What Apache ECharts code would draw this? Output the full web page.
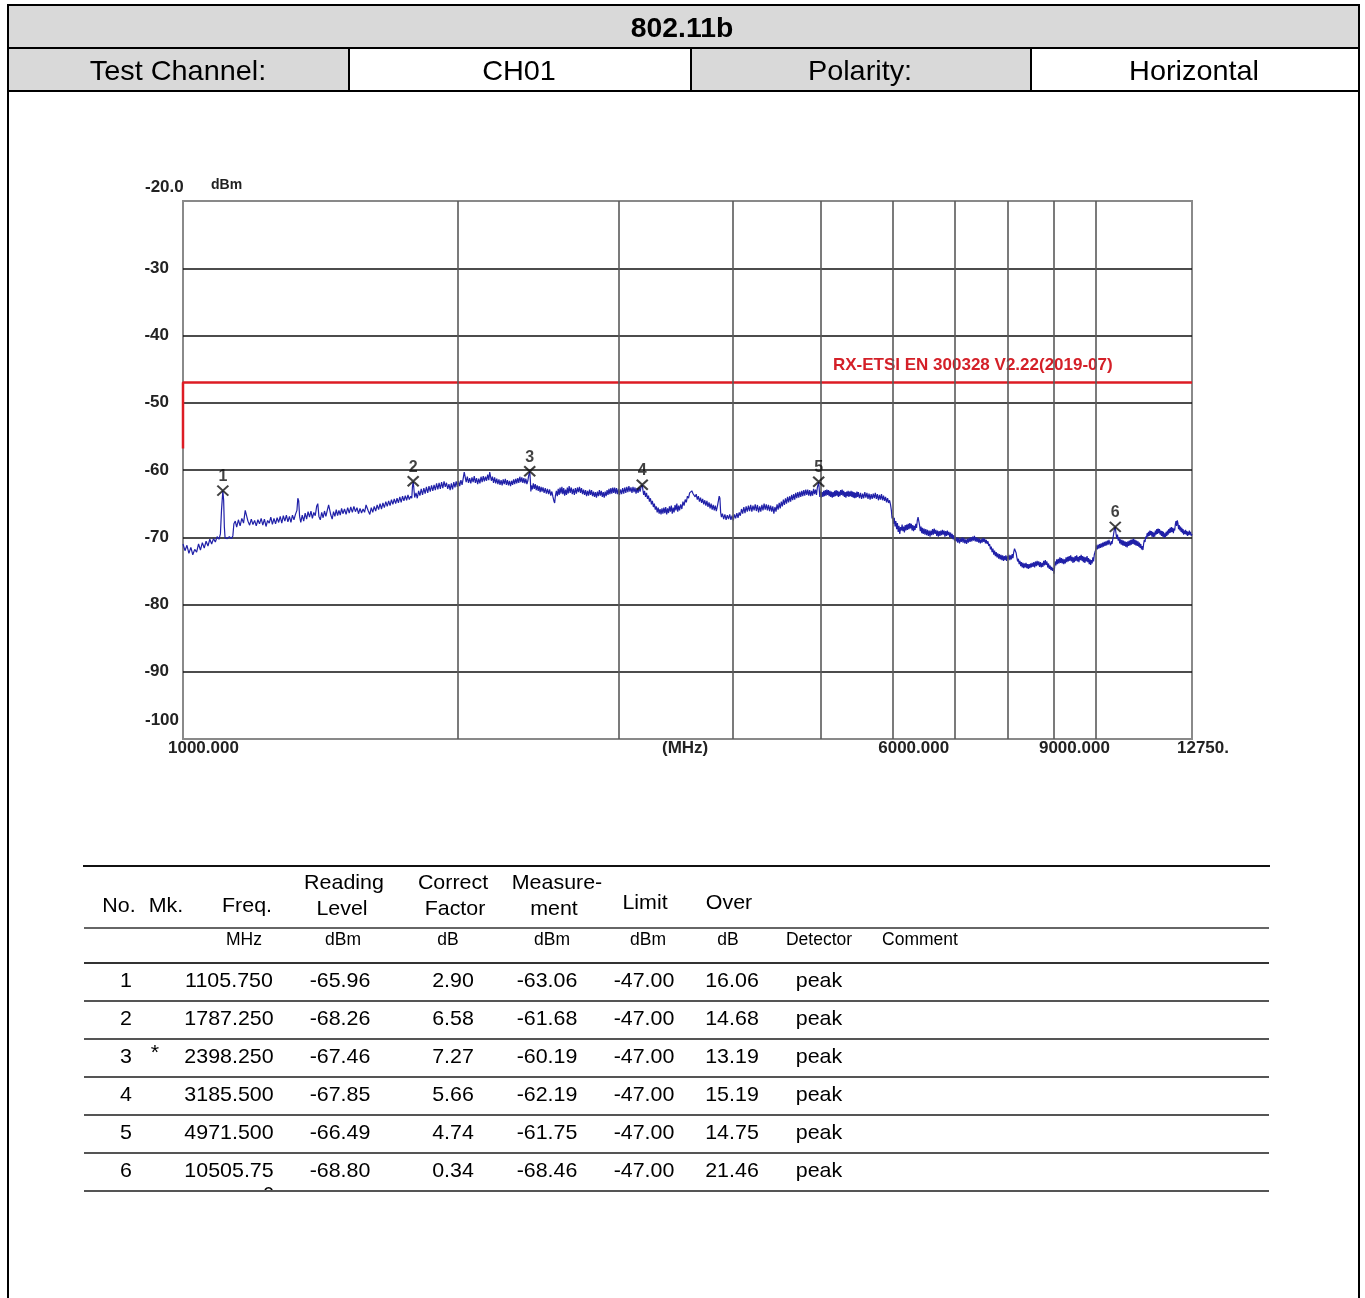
<!DOCTYPE html>
<html><head><meta charset="utf-8">
<script src="https://cdn.jsdelivr.net/npm/echarts@6/dist/echarts.min.js"></script>
<style>
html,body{margin:0;padding:0;background:#fff;}
#page{position:relative;width:1365px;height:1298px;overflow:hidden;font-family:"Liberation Sans",Arial,sans-serif;}
#chart{position:absolute;left:0;top:0;width:1365px;height:1298px;z-index:0;}
.t{position:absolute;white-space:nowrap;color:#000;z-index:2;line-height:1;}
.box{position:absolute;z-index:1;}
</style></head>
<body><div id="page"><div id="chart"></div></div>
<script>
// ---------------- data ----------------
const title = '802.11b';
const infoLabels = ['Test Channel:', 'CH01', 'Polarity:', 'Horizontal'];

const yTicks = [-100, -90, -80, -70, -60, -50, -40, -30, -20];
const xTickFreqs = [1000, 6000, 9000, 12750];
const xTickLabels = ['1000.000', '6000.000', '9000.000', '12750.'];
const gridFreqs = [2000, 3000, 4000, 5000, 6000, 7000, 8000, 9000, 10000];

const limitName = 'RX-ETSI EN 300328 V2.22(2019-07)';
const limitFreq = [1000, 1000, 12750];
const limitLevel = [-56.8, -47, -47];

const markerNo = [1, 2, 3, 4, 5, 6];
const markerFreq = [1105.75, 1787.25, 2398.25, 3185.5, 4971.5, 10505.75];
const markerLevel = [-63.06, -61.68, -60.19, -62.19, -61.75, -68.46];

// measured trace: [frequency MHz, level dBm]
const trace = [[1000,-71.0],[1005,-72.0],[1010,-71.2],[1015,-72.4],[1020,-71.5],[1025,-72.6],[1030,-71.8],[1035,-72.2],[1040,-71.0],[1045,-71.9],[1050,-70.8],[1055,-71.6],[1060,-70.6],[1065,-71.3],[1070,-70.3],[1075,-71.0],[1080,-70.2],[1085,-70.7],[1090,-69.9],[1095,-70.3],[1099,-69.5],[1102,-66.0],[1105.75,-63.06],[1108,-64.5],[1110,-68.5],[1112,-70.1],[1118,-70.2],[1124,-69.9],[1130,-70.2],[1134,-69.8],[1137,-68.0],[1141,-67.6],[1145,-68.5],[1150,-67.4],[1155,-68.3],[1160,-67.2],[1165,-67.9],[1170,-66.0],[1174,-65.9],[1178,-67.6],[1183,-68.2],[1188,-67.3],[1193,-68.1],[1198,-67.5],[1203,-68.3],[1208,-67.4],[1213,-68.0],[1218,-67.2],[1223,-68.2],[1228,-67.3],[1233,-68.4],[1238,-67.5],[1243,-67.9],[1248,-67.0],[1253,-68.1],[1258,-67.2],[1263,-68.0],[1268,-67.1],[1273,-67.8],[1278,-66.9],[1283,-67.9],[1288,-66.8],[1293,-67.6],[1298,-66.7],[1303,-67.7],[1308,-66.9],[1313,-67.8],[1318,-66.7],[1323,-67.4],[1328,-66.6],[1333,-66.0],[1336,-64.2],[1339,-64.6],[1342,-66.9],[1346,-67.8],[1351,-66.7],[1356,-67.6],[1361,-66.4],[1366,-67.3],[1371,-66.2],[1376,-67.0],[1381,-66.1],[1386,-67.2],[1391,-66.3],[1396,-66.8],[1401,-65.4],[1405,-65.0],[1409,-66.9],[1414,-67.4],[1419,-66.3],[1424,-67.1],[1429,-66.1],[1434,-66.9],[1439,-66.0],[1444,-65.2],[1448,-65.1],[1452,-66.7],[1457,-67.3],[1462,-66.2],[1467,-66.9],[1472,-65.9],[1477,-66.8],[1482,-66.0],[1487,-66.7],[1492,-65.7],[1497,-66.5],[1503,-65.8],[1509,-66.6],[1515,-65.6],[1521,-66.4],[1527,-65.5],[1533,-66.3],[1539,-65.4],[1545,-66.2],[1551,-65.6],[1557,-66.5],[1563,-65.7],[1569,-66.4],[1575,-65.8],[1581,-66.3],[1587,-65.2],[1591,-65.0],[1596,-66.1],[1602,-66.6],[1608,-65.6],[1614,-66.3],[1620,-65.4],[1626,-66.1],[1632,-65.2],[1638,-65.9],[1644,-65.0],[1650,-65.8],[1656,-64.9],[1662,-65.6],[1668,-64.7],[1674,-65.4],[1680,-64.6],[1686,-65.3],[1692,-64.4],[1698,-65.1],[1704,-64.3],[1710,-65.0],[1716,-64.2],[1722,-64.9],[1728,-64.0],[1734,-64.8],[1740,-63.9],[1746,-64.6],[1752,-63.8],[1758,-64.5],[1764,-63.7],[1770,-64.4],[1776,-63.9],[1781,-64.2],[1784,-62.5],[1787.25,-61.68],[1790,-62.6],[1794,-64.1],[1800,-63.4],[1806,-64.2],[1812,-63.1],[1818,-63.8],[1824,-62.8],[1830,-63.7],[1836,-62.7],[1842,-63.5],[1848,-62.5],[1854,-63.4],[1860,-62.4],[1866,-63.2],[1872,-62.3],[1878,-63.1],[1884,-62.2],[1890,-63.0],[1896,-62.0],[1902,-62.9],[1908,-61.9],[1914,-62.8],[1920,-61.8],[1926,-62.7],[1932,-61.7],[1938,-62.5],[1944,-61.9],[1950,-62.8],[1956,-62.1],[1962,-63.0],[1968,-62.0],[1974,-62.9],[1980,-61.8],[1986,-62.6],[1992,-61.7],[1998,-62.5],[2004,-61.6],[2010,-62.4],[2016,-61.5],[2022,-62.2],[2028,-61.2],[2033,-60.3],[2038,-60.5],[2043,-61.8],[2049,-61.0],[2055,-61.9],[2061,-61.2],[2067,-62.0],[2073,-61.1],[2079,-61.8],[2085,-60.9],[2091,-61.9],[2097,-61.2],[2103,-62.1],[2109,-61.3],[2115,-62.0],[2121,-61.0],[2127,-61.8],[2133,-60.9],[2139,-61.7],[2145,-61.0],[2151,-61.6],[2157,-60.7],[2163,-61.5],[2168,-60.3],[2172,-60.4],[2177,-61.6],[2183,-61.0],[2189,-61.9],[2195,-61.1],[2201,-62.0],[2207,-61.3],[2213,-62.1],[2219,-61.4],[2225,-62.2],[2231,-61.5],[2237,-62.3],[2243,-61.4],[2249,-62.1],[2255,-61.3],[2261,-62.2],[2267,-61.5],[2273,-62.3],[2279,-61.6],[2285,-62.4],[2291,-61.6],[2297,-62.2],[2303,-61.4],[2309,-62.1],[2315,-61.3],[2321,-62.0],[2327,-61.2],[2333,-61.9],[2339,-61.0],[2345,-61.8],[2351,-61.1],[2357,-61.9],[2363,-61.2],[2369,-62.0],[2375,-61.3],[2381,-62.1],[2387,-61.6],[2392,-60.8],[2398.25,-60.19],[2402,-61.5],[2405,-63.2],[2409,-62.3],[2414,-62.9],[2420,-62.0],[2426,-62.8],[2432,-62.1],[2438,-63.0],[2444,-62.3],[2450,-63.1],[2456,-62.4],[2462,-63.3],[2468,-62.5],[2474,-63.2],[2480,-62.6],[2487,-63.4],[2494,-62.7],[2501,-63.5],[2508,-62.8],[2515,-63.6],[2522,-62.9],[2529,-63.8],[2536,-63.2],[2543,-64.0],[2549,-64.6],[2554,-64.9],[2559,-63.8],[2565,-63.1],[2571,-63.9],[2577,-62.8],[2583,-63.7],[2589,-62.6],[2595,-63.5],[2601,-62.5],[2607,-63.6],[2613,-62.7],[2619,-63.8],[2625,-62.9],[2631,-63.7],[2637,-62.6],[2643,-63.5],[2649,-62.4],[2656,-63.4],[2663,-62.6],[2670,-63.6],[2677,-62.8],[2684,-63.7],[2691,-62.7],[2698,-63.5],[2705,-62.6],[2712,-63.3],[2719,-62.5],[2726,-63.4],[2733,-62.7],[2740,-63.6],[2747,-62.9],[2754,-63.7],[2761,-63.0],[2768,-63.9],[2775,-63.1],[2782,-63.8],[2789,-62.9],[2796,-63.7],[2803,-63.0],[2810,-63.9],[2817,-63.2],[2824,-64.0],[2831,-63.3],[2838,-64.1],[2845,-63.2],[2852,-63.9],[2859,-63.0],[2866,-63.8],[2873,-63.1],[2880,-64.0],[2887,-63.3],[2894,-64.1],[2901,-63.2],[2908,-63.9],[2915,-63.0],[2922,-63.7],[2929,-62.8],[2936,-63.6],[2943,-62.7],[2950,-63.5],[2957,-62.6],[2964,-63.4],[2971,-62.6],[2978,-63.5],[2985,-62.7],[2992,-63.6],[3000,-62.8],[3008,-63.7],[3016,-62.9],[3024,-63.6],[3032,-62.7],[3040,-63.5],[3048,-62.6],[3056,-63.4],[3064,-62.5],[3072,-63.3],[3080,-62.4],[3088,-63.2],[3096,-62.6],[3104,-63.4],[3112,-62.5],[3120,-63.3],[3128,-62.6],[3136,-63.5],[3144,-62.7],[3152,-63.4],[3160,-62.6],[3168,-63.2],[3175,-62.6],[3180,-62.4],[3185.5,-62.19],[3191,-63.0],[3197,-63.7],[3204,-63.1],[3212,-64.0],[3220,-63.4],[3228,-64.3],[3236,-63.8],[3244,-64.7],[3252,-64.2],[3260,-65.1],[3268,-64.6],[3276,-65.5],[3284,-65.0],[3292,-65.9],[3300,-65.4],[3308,-66.3],[3316,-65.6],[3324,-66.5],[3332,-65.8],[3340,-66.6],[3348,-65.7],[3356,-66.5],[3364,-65.6],[3372,-66.4],[3380,-65.5],[3388,-66.6],[3396,-65.7],[3404,-66.4],[3412,-65.4],[3420,-66.2],[3428,-65.3],[3436,-66.5],[3444,-65.6],[3452,-66.3],[3460,-65.2],[3468,-66.0],[3476,-65.0],[3484,-66.2],[3492,-65.3],[3500,-66.0],[3510,-65.1],[3520,-65.8],[3530,-64.7],[3540,-65.3],[3550,-64.4],[3560,-64.8],[3570,-63.9],[3580,-64.2],[3590,-63.4],[3600,-63.6],[3610,-63.1],[3620,-63.5],[3630,-63.3],[3640,-64.0],[3650,-63.6],[3660,-64.4],[3670,-63.9],[3680,-64.7],[3690,-64.1],[3700,-64.9],[3710,-64.3],[3720,-65.1],[3730,-64.5],[3740,-65.3],[3750,-64.6],[3760,-65.5],[3770,-64.8],[3780,-65.7],[3790,-65.0],[3800,-65.9],[3810,-65.2],[3820,-66.0],[3830,-65.3],[3840,-66.1],[3850,-65.4],[3860,-64.6],[3868,-63.9],[3875,-64.2],[3882,-66.3],[3890,-67.0],[3900,-66.5],[3912,-67.3],[3924,-66.6],[3936,-67.4],[3948,-66.7],[3960,-67.3],[3972,-66.6],[3984,-67.4],[3996,-66.8],[4008,-67.5],[4020,-66.6],[4032,-67.2],[4044,-66.4],[4056,-67.1],[4068,-66.3],[4080,-66.8],[4092,-65.8],[4104,-66.5],[4116,-65.5],[4128,-66.4],[4140,-65.4],[4152,-66.2],[4164,-65.3],[4176,-66.1],[4188,-65.2],[4200,-66.2],[4212,-65.3],[4224,-66.0],[4236,-65.1],[4248,-66.1],[4260,-65.2],[4272,-66.3],[4284,-65.4],[4296,-66.2],[4308,-65.2],[4320,-66.0],[4332,-65.0],[4344,-65.9],[4356,-65.1],[4368,-66.0],[4380,-65.2],[4392,-66.1],[4404,-65.3],[4416,-66.2],[4428,-65.4],[4440,-66.5],[4452,-65.5],[4464,-66.2],[4476,-65.1],[4488,-65.9],[4500,-64.9],[4512,-65.7],[4524,-64.7],[4536,-65.4],[4548,-64.4],[4560,-65.2],[4572,-64.2],[4584,-65.0],[4596,-64.0],[4608,-64.8],[4620,-63.9],[4632,-64.7],[4644,-63.7],[4656,-64.5],[4668,-63.6],[4680,-64.4],[4692,-63.4],[4704,-64.2],[4716,-63.3],[4728,-64.1],[4740,-63.2],[4752,-64.0],[4764,-63.1],[4776,-63.9],[4788,-63.0],[4800,-63.8],[4812,-62.9],[4824,-63.7],[4836,-62.9],[4848,-63.8],[4860,-63.0],[4872,-63.9],[4884,-63.1],[4896,-63.8],[4908,-62.8],[4920,-63.6],[4932,-62.9],[4944,-63.7],[4955,-62.6],[4963,-62.2],[4971.5,-61.75],[4978,-62.8],[4986,-64.0],[4995,-63.2],[5005,-64.1],[5015,-63.3],[5025,-64.0],[5035,-63.1],[5045,-63.9],[5055,-63.0],[5065,-63.8],[5075,-62.9],[5085,-63.7],[5095,-63.0],[5105,-63.9],[5115,-63.1],[5125,-64.0],[5135,-63.2],[5145,-64.1],[5155,-63.3],[5165,-64.0],[5175,-63.1],[5185,-63.9],[5195,-63.0],[5205,-63.8],[5215,-63.1],[5225,-64.0],[5235,-63.2],[5245,-63.9],[5255,-63.0],[5265,-63.7],[5275,-62.9],[5285,-63.8],[5295,-63.1],[5305,-64.0],[5315,-63.3],[5325,-64.1],[5335,-63.2],[5345,-63.9],[5355,-63.1],[5365,-64.0],[5375,-63.2],[5385,-63.9],[5395,-63.1],[5405,-64.0],[5415,-63.2],[5425,-64.1],[5435,-63.3],[5445,-64.2],[5455,-63.4],[5465,-64.1],[5475,-63.2],[5485,-64.0],[5495,-63.3],[5510,-64.2],[5525,-63.4],[5540,-64.3],[5555,-63.5],[5570,-64.2],[5585,-63.3],[5600,-64.1],[5615,-63.4],[5630,-64.3],[5645,-63.5],[5660,-64.4],[5675,-63.6],[5690,-64.3],[5705,-63.5],[5720,-64.2],[5735,-63.4],[5750,-64.3],[5765,-63.6],[5780,-64.5],[5795,-63.7],[5810,-64.4],[5825,-63.6],[5840,-64.5],[5855,-63.8],[5870,-64.6],[5885,-64.0],[5900,-64.8],[5915,-64.2],[5930,-64.9],[5945,-64.5],[5960,-65.2],[5972,-66.0],[5982,-67.2],[5992,-66.8],[6004,-68.0],[6016,-67.1],[6028,-68.4],[6040,-67.6],[6052,-68.8],[6064,-67.9],[6076,-69.2],[6088,-68.3],[6100,-69.5],[6112,-68.5],[6124,-69.0],[6136,-68.1],[6148,-69.1],[6160,-68.4],[6172,-69.3],[6184,-68.2],[6196,-69.0],[6208,-68.1],[6220,-68.9],[6232,-68.0],[6244,-68.8],[6256,-67.9],[6268,-68.7],[6280,-68.0],[6292,-69.0],[6304,-68.2],[6316,-69.1],[6328,-68.3],[6340,-68.9],[6352,-68.0],[6364,-68.6],[6376,-67.5],[6388,-67.0],[6400,-66.9],[6412,-68.2],[6424,-69.1],[6436,-68.4],[6448,-69.4],[6460,-68.6],[6472,-69.5],[6486,-68.7],[6500,-69.6],[6514,-68.8],[6528,-69.7],[6542,-68.9],[6556,-69.8],[6570,-69.0],[6584,-69.9],[6598,-69.0],[6612,-69.7],[6626,-68.8],[6640,-69.6],[6654,-68.7],[6668,-69.5],[6682,-68.9],[6696,-69.8],[6710,-69.0],[6724,-69.9],[6738,-69.1],[6752,-69.8],[6766,-69.0],[6780,-69.7],[6794,-68.9],[6808,-69.6],[6822,-69.0],[6836,-69.9],[6850,-69.1],[6864,-69.8],[6878,-69.0],[6892,-69.7],[6906,-69.2],[6920,-70.0],[6934,-69.3],[6948,-70.1],[6962,-69.5],[6976,-70.3],[6990,-69.7],[7004,-70.5],[7018,-69.9],[7032,-70.6],[7046,-70.0],[7060,-70.8],[7076,-70.1],[7092,-70.9],[7108,-70.2],[7124,-70.7],[7140,-70.0],[7156,-70.8],[7172,-70.1],[7188,-70.9],[7204,-70.3],[7220,-71.0],[7236,-70.2],[7252,-70.8],[7268,-70.1],[7284,-70.7],[7300,-70.0],[7316,-70.6],[7332,-69.9],[7348,-70.5],[7364,-69.8],[7380,-70.6],[7396,-70.0],[7412,-70.7],[7428,-70.1],[7444,-70.8],[7460,-70.2],[7476,-70.9],[7492,-70.3],[7508,-70.8],[7524,-70.1],[7540,-70.7],[7556,-70.2],[7572,-70.9],[7588,-70.4],[7604,-71.0],[7620,-70.6],[7636,-71.3],[7652,-71.0],[7668,-71.8],[7684,-71.4],[7700,-72.2],[7716,-71.7],[7732,-72.6],[7748,-72.0],[7764,-72.8],[7780,-72.2],[7796,-73.0],[7812,-72.4],[7828,-73.2],[7844,-72.5],[7860,-73.3],[7876,-72.6],[7892,-73.4],[7908,-72.7],[7924,-73.5],[7940,-72.8],[7956,-73.4],[7972,-72.7],[7988,-73.5],[8004,-72.8],[8020,-73.3],[8036,-72.6],[8052,-73.4],[8068,-72.7],[8084,-73.3],[8100,-72.5],[8116,-73.1],[8132,-72.2],[8148,-71.7],[8164,-71.5],[8180,-72.3],[8196,-73.0],[8212,-73.6],[8228,-73.2],[8244,-74.0],[8260,-73.5],[8276,-74.3],[8292,-73.7],[8308,-74.5],[8324,-73.8],[8340,-74.6],[8356,-73.9],[8372,-74.5],[8388,-73.8],[8404,-74.6],[8420,-74.0],[8436,-74.7],[8452,-74.0],[8468,-74.6],[8484,-73.9],[8500,-74.5],[8518,-73.8],[8536,-74.4],[8554,-73.7],[8572,-74.5],[8590,-73.6],[8608,-74.3],[8626,-73.5],[8644,-74.2],[8662,-73.6],[8680,-74.4],[8698,-73.7],[8716,-74.5],[8734,-73.8],[8752,-74.4],[8770,-73.5],[8788,-74.2],[8806,-73.4],[8824,-74.1],[8842,-73.6],[8860,-74.5],[8878,-73.9],[8896,-74.7],[8914,-74.2],[8932,-74.9],[8950,-74.4],[8968,-75.0],[8984,-74.6],[9000,-75.4],[9014,-74.5],[9028,-73.6],[9046,-74.2],[9064,-73.3],[9082,-74.0],[9100,-73.2],[9118,-73.9],[9136,-73.0],[9154,-73.8],[9172,-73.1],[9190,-73.9],[9208,-73.2],[9226,-74.0],[9244,-73.3],[9262,-73.9],[9280,-73.0],[9298,-73.7],[9316,-72.9],[9334,-73.6],[9352,-72.8],[9370,-73.5],[9388,-72.7],[9406,-73.6],[9424,-72.9],[9442,-73.8],[9460,-73.0],[9478,-73.7],[9496,-72.8],[9514,-73.5],[9532,-72.7],[9550,-73.6],[9568,-72.9],[9586,-73.7],[9604,-72.8],[9622,-73.4],[9640,-72.6],[9658,-73.5],[9676,-72.8],[9694,-73.7],[9712,-72.9],[9730,-73.8],[9748,-73.0],[9766,-73.6],[9784,-72.8],[9802,-73.7],[9820,-73.1],[9838,-74.0],[9856,-73.3],[9874,-74.1],[9892,-73.4],[9910,-73.9],[9928,-73.0],[9946,-73.6],[9964,-72.6],[9982,-72.2],[10000,-71.9],[10020,-71.2],[10040,-71.8],[10060,-71.1],[10080,-71.7],[10100,-71.0],[10120,-71.6],[10140,-70.9],[10160,-71.5],[10180,-70.8],[10200,-71.4],[10220,-70.7],[10240,-71.3],[10260,-70.6],[10280,-71.2],[10300,-70.5],[10320,-71.1],[10340,-70.4],[10360,-70.9],[10380,-71.2],[10400,-70.6],[10420,-71.0],[10440,-70.3],[10460,-69.6],[10480,-68.9],[10505.75,-68.46],[10525,-69.4],[10545,-70.2],[10565,-69.6],[10585,-70.5],[10605,-70.0],[10625,-70.9],[10645,-70.3],[10665,-71.1],[10685,-70.4],[10705,-71.2],[10725,-70.5],[10745,-71.3],[10765,-70.6],[10785,-71.4],[10805,-70.7],[10825,-71.5],[10845,-70.6],[10865,-71.3],[10885,-70.5],[10905,-71.2],[10925,-70.4],[10945,-71.1],[10965,-70.3],[10985,-71.0],[11005,-70.2],[11025,-71.1],[11045,-70.4],[11065,-71.2],[11085,-70.5],[11105,-71.3],[11125,-70.6],[11145,-71.4],[11165,-70.8],[11185,-71.6],[11205,-71.0],[11225,-71.8],[11245,-71.3],[11265,-71.9],[11285,-71.0],[11305,-70.4],[11325,-70.7],[11345,-69.9],[11365,-70.2],[11385,-69.4],[11405,-69.9],[11425,-69.2],[11445,-69.8],[11465,-69.0],[11485,-69.7],[11505,-69.1],[11525,-69.9],[11545,-69.2],[11565,-70.0],[11585,-69.3],[11605,-69.9],[11625,-69.0],[11645,-69.6],[11665,-68.8],[11685,-69.5],[11705,-68.7],[11725,-69.4],[11745,-68.8],[11765,-69.6],[11785,-69.0],[11805,-69.8],[11825,-69.1],[11845,-69.9],[11865,-69.2],[11885,-70.1],[11905,-69.4],[11925,-70.0],[11945,-69.2],[11965,-69.8],[11985,-69.0],[12005,-69.6],[12025,-68.8],[12045,-69.4],[12065,-68.6],[12085,-69.3],[12105,-68.5],[12125,-69.2],[12145,-68.6],[12165,-69.4],[12185,-68.7],[12205,-69.0],[12225,-68.1],[12245,-67.6],[12265,-68.3],[12285,-67.5],[12305,-67.9],[12325,-68.8],[12345,-68.2],[12365,-69.0],[12385,-68.4],[12405,-69.2],[12425,-68.6],[12445,-69.4],[12465,-68.8],[12485,-69.6],[12505,-69.0],[12525,-69.5],[12545,-68.9],[12565,-69.6],[12585,-69.1],[12605,-69.8],[12625,-69.2],[12645,-69.7],[12665,-69.0],[12685,-69.6],[12705,-69.2],[12725,-69.8],[12750,-69.5]];

// result table
const colHeads1 = ['No.', 'Mk.', 'Freq.', 'Reading', 'Correct', 'Measure-', 'Limit', 'Over'];
const colHeads2 = ['', '', '', 'Level', 'Factor', 'ment', '', ''];
const colUnits = ['MHz', 'dBm', 'dB', 'dBm', 'dBm', 'dB', 'Detector', 'Comment'];
const tblNo = ['1', '2', '3', '4', '5', '6'];
const tblMk = ['', '', '*', '', '', ''];
const tblFreq = ['1105.750', '1787.250', '2398.250', '3185.500', '4971.500', '10505.75'];
const tblReading = ['-65.96', '-68.26', '-67.46', '-67.85', '-66.49', '-68.80'];
const tblCorrect = ['2.90', '6.58', '7.27', '5.66', '4.74', '0.34'];
const tblMeas = ['-63.06', '-61.68', '-60.19', '-62.19', '-61.75', '-68.46'];
const tblLimit = ['-47.00', '-47.00', '-47.00', '-47.00', '-47.00', '-47.00'];
const tblOver = ['16.06', '14.68', '13.19', '15.19', '14.75', '21.46'];
const tblDet = ['peak', 'peak', 'peak', 'peak', 'peak', 'peak'];

// ---------------- HTML frame and tables ----------------
const page = document.getElementById('page');
function box(l, t, w, h, bg) {
  const d = document.createElement('div'); d.className = 'box';
  d.style.cssText += `left:${l}px;top:${t}px;width:${w}px;height:${h}px;background:${bg};`;
  page.appendChild(d); return d;
}
function txt(s, cx, cy, size, opts) {
  opts = opts || {};
  const d = document.createElement('div'); d.className = 't'; d.textContent = s;
  d.style.fontSize = size + 'px';
  if (opts.bold) d.style.fontWeight = 'bold';
  if (opts.color) d.style.color = opts.color;
  d.style.left = cx + 'px'; d.style.top = cy + 'px';
  d.style.transform = `translate(-50%,-50%) scaleX(${opts.sx || 1})`;
  page.appendChild(d); return d;
}
// top header table
box(7, 5, 1353, 43, '#d9d9d9');
box(7, 48, 342, 43, '#d9d9d9');
box(691, 48, 340, 43, '#d9d9d9');
box(7, 4, 1353, 2, '#000');
box(7, 47, 1353, 2, '#000');
box(7, 90, 1353, 2, '#000');
box(7, 4, 2, 1294, '#000');
box(1358, 4, 2, 1294, '#000');
box(348, 48, 2, 43, '#000');
box(690, 48, 2, 43, '#000');
box(1030, 48, 2, 43, '#000');
txt(title, 682, 28, 27, {bold: true, sx: 1.05});
const infoX = [178, 519, 860, 1194];
infoLabels.forEach((s, i) => txt(s, infoX[i], 71, 28, {sx: 1.03}));

// result table lines
box(83, 865, 1187, 2, '#111');
box(84, 927, 1185, 2, '#666');
box(84, 962, 1185, 2, '#333');
[1000, 1038, 1076, 1114, 1152, 1190].forEach(y => box(84, y, 1185, 2, '#555'));
const headX = [119, 166, 247, 344, 453, 557, 645, 729];
colHeads1.forEach((s, i) => {
  const isTop = colHeads2[i] !== '';
  txt(s, headX[i], isTop ? 881 : (i >= 6 ? 901 : 904), 21, {sx: 1.02});
});
const head2X = [0, 0, 0, 342, 455, 554, 0, 0];
colHeads2.forEach((s, i) => { if (s) txt(s, head2X[i], 907, 21, {sx: 1.02}); });
const unitX = [244, 343, 448, 552, 648, 728, 819, 920];
colUnits.forEach((s, i) => txt(s, unitX[i], 940, 17.5, {sx: 1.0}));
const colCx = [126, 155, 229, 340, 453, 547, 644, 732, 819];
const cols = [tblNo, tblMk, tblFreq, tblReading, tblCorrect, tblMeas, tblLimit, tblOver, tblDet];
for (let r = 0; r < tblNo.length; r++) {
  const y = 979 + 38 * r;
  cols.forEach((c, k) => { if (c[r]) txt(c[r], colCx[k], k === 1 ? y - 4 : y, 21, {sx: 1.02}); });
}
// clipped wrap digit of the last frequency cell
const clip = document.createElement('div');
clip.style.cssText = 'position:absolute;left:260px;top:1185px;width:16px;height:5px;overflow:hidden;z-index:2;';
const z0 = document.createElement('div');
z0.textContent = '0';
z0.style.cssText = 'position:absolute;left:3px;top:-1px;font-size:20px;line-height:1;font-family:"Liberation Sans",Arial,sans-serif;';
clip.appendChild(z0); page.appendChild(clip);

// ---------------- chart ----------------
const chart = echarts.init(document.getElementById('chart'), null, {renderer: 'canvas'});
const G = {left: 183, top: 201, width: 1009, height: 538};
const lblFont = {fontFamily: '"Liberation Sans", Arial, sans-serif', fontWeight: 'bold', fontSize: 17, color: '#222'};
const splitColors = yTicks.map((v, i) => (i === 0 || i === yTicks.length - 1) ? '#888' : '#111');

chart.setOption({
  animation: false,
  backgroundColor: 'transparent',
  grid: {left: G.left, top: G.top, width: G.width, height: G.height, show: true, borderColor: '#8a8a8a', borderWidth: 2, backgroundColor: 'transparent'},
  xAxis: {
    type: 'log', logBase: 10, min: 1000, max: 12750,
    axisLine: {show: false}, axisTick: {show: false}, axisLabel: {show: false}, splitLine: {show: false}, minorSplitLine: {show: false}
  },
  yAxis: {
    type: 'value', min: -100, max: -20, interval: 10,
    axisLine: {show: false}, axisTick: {show: false},
    axisLabel: Object.assign({margin: 14, formatter: v => (v === -20 || v === -100) ? '' : String(v)}, lblFont),
    splitLine: {show: true, lineStyle: {color: splitColors, width: 1.6}}
  },
  series: [
    {
      name: 'grid', type: 'line', data: [], z: 1, silent: true,
      markLine: {
        silent: true, symbol: ['none', 'none'], animation: false,
        label: {show: false},
        lineStyle: {color: '#5a5a5a', width: 1.6, type: 'solid'},
        data: gridFreqs.map(f => ({xAxis: f}))
      }
    },
    {
      name: 'limit', type: 'line', z: 3, symbol: 'none', silent: true,
      data: limitFreq.map((f, i) => [f, limitLevel[i]]),
      lineStyle: {color: '#dd1c24', width: 2.5}
    },
    {
      name: 'trace', type: 'line', z: 4, symbol: 'none', silent: true,
      data: trace,
      lineStyle: {color: '#2020a8', width: 1.2}
    },
    {
      name: 'markers', type: 'scatter', z: 5, silent: true,
      symbol: 'path://M0,0L10,10M10,0L0,10', symbolSize: [11, 10],
      itemStyle: {color: 'rgba(0,0,0,0)', borderColor: '#111', borderWidth: 2},
      label: Object.assign({show: true, position: 'top', distance: 0, formatter: p => String(markerNo[p.dataIndex])}, lblFont, {fontSize: 16, color: '#111'}),
      data: markerFreq.map((f, i) => [f, markerLevel[i]])
    }
  ]
});

// axis tick labels that sit away from the ticks, placed via the axis scale
const graphics = [];
xTickFreqs.forEach((f, i) => {
  const p = chart.convertToPixel({gridIndex: 0}, [f, -100]);
  graphics.push({type: 'text', left: p[0] - 15, top: p[1] + 1, style: Object.assign({text: xTickLabels[i]}, lblFont, {fill: '#222'})});
});
const pMid = chart.convertToPixel({gridIndex: 0}, [3350, -100]);
graphics.push({type: 'text', left: 662, top: pMid[1] + 1, style: Object.assign({text: '(MHz)'}, lblFont, {fill: '#222'})});
const pTop = chart.convertToPixel({gridIndex: 0}, [1000, -20]);
const pBot = chart.convertToPixel({gridIndex: 0}, [1000, -100]);
graphics.push({type: 'text', left: 145, top: pTop[1] - 22, style: Object.assign({text: '-20.0'}, lblFont, {fill: '#222'})});
graphics.push({type: 'text', left: 211, top: pTop[1] - 23, style: Object.assign({text: 'dBm'}, lblFont, {fontSize: 14, fill: '#222'})});
graphics.push({type: 'text', left: 145, top: pBot[1] - 27, style: Object.assign({text: '-100'}, lblFont, {fill: '#222'})});
const pLim = chart.convertToPixel({gridIndex: 0}, [4950, -47]);
graphics.push({type: 'text', left: pLim[0] + 16, top: pLim[1] - 26, style: {text: limitName, fontFamily: '"Liberation Sans", Arial, sans-serif', fontWeight: 'bold', fontSize: 17, fill: '#d42028'}});
chart.setOption({graphic: graphics});
</script>
</body></html>
